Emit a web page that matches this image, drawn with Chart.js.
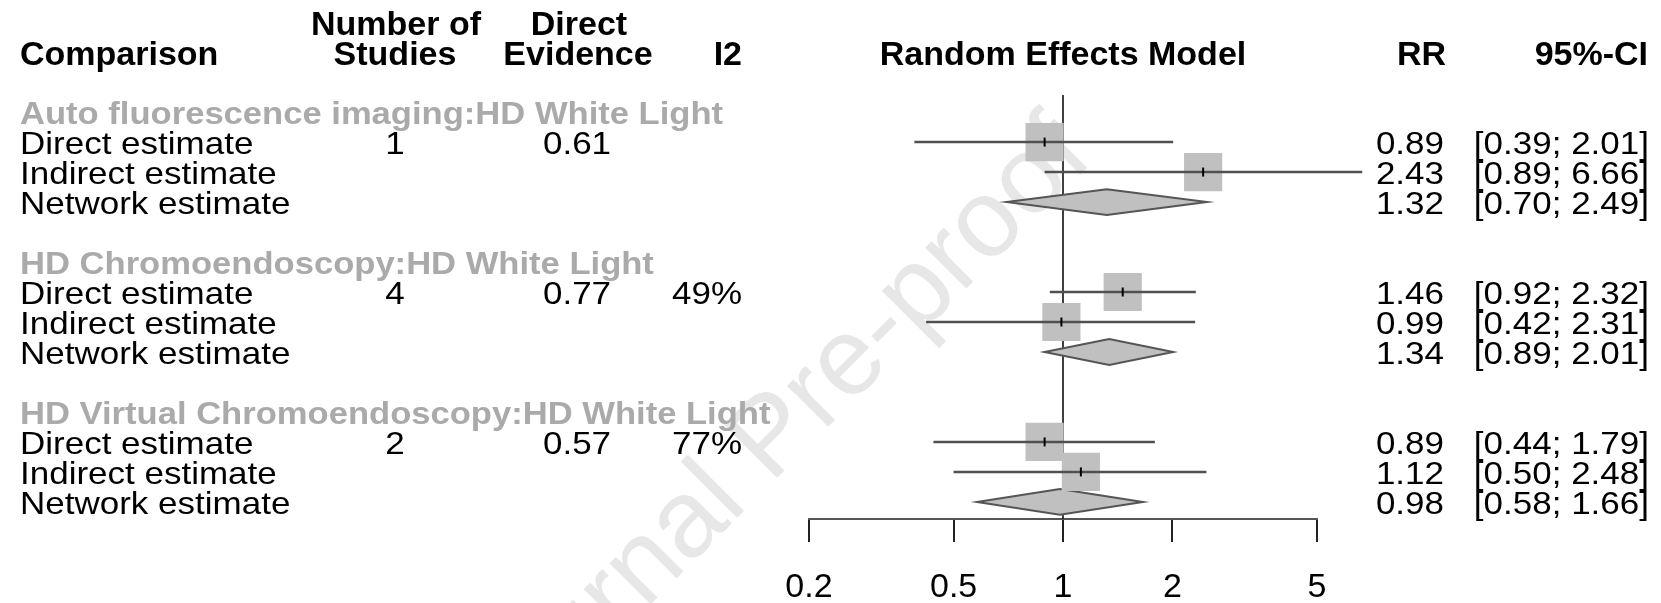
<!DOCTYPE html>
<html>
<head>
<meta charset="utf-8">
<script src="https://cdn.jsdelivr.net/npm/chart.js@4.4.1/dist/chart.umd.min.js"></script>
<style>
  html, body { margin: 0; padding: 0; background: #fff; }
  canvas { display: block; }
</style>
</head>
<body>
<canvas id="forest" width="1661" height="603"></canvas>
<script>
// data
const groups = [
    'Auto fluorescence imaging:HD White Light',
    'HD Chromoendoscopy:HD White Light',
    'HD Virtual Chromoendoscopy:HD White Light'
];
const estimateTypes = ['Direct estimate', 'Indirect estimate', 'Network estimate'];
const nStudies = ['1', '4', '2'];
const directEvidence = ['0.61', '0.77', '0.57'];
const i2 = ['', '49%', '77%'];
const rr = [[0.89, 2.43, 1.32], [1.46, 0.99, 1.34], [0.89, 1.12, 0.98]];
const lower = [[0.39, 0.89, 0.70], [0.92, 0.42, 0.89], [0.44, 0.50, 0.58]];
const upper = [[2.01, 6.66, 2.49], [2.32, 2.31, 2.01], [1.79, 2.48, 1.66]];
const xTicks = [0.2, 0.5, 1, 2, 5];

const FONT = '"Liberation Sans", Arial, sans-serif';

// row index of each line in the table (group title, then 3 estimates, then a blank)
const rowOf = (g, k) => g * 5 + 1 + k;

let squares = [], marks = [], ciLines = [], diamonds = [];
groups.forEach((g, gi) => {
    estimateTypes.forEach((t, k) => {
        let r = rowOf(gi, k);
        if (k < 2) {
            squares.push({ x: rr[gi][k], y: r });
            marks.push({ x: rr[gi][k], y: r });
            ciLines.push({ x: lower[gi][k], y: r }, { x: upper[gi][k], y: r }, { x: 1, y: null });
        } else {
            diamonds.push({ lo: lower[gi][k], est: rr[gi][k], hi: upper[gi][k], y: r });
        }
    });
});

function txt(ctx, s, x, y, align, font, color, sy) {
    ctx.save();
    ctx.font = font;
    ctx.fillStyle = color;
    ctx.textAlign = align;
    ctx.textBaseline = 'alphabetic';
    ctx.translate(x, y);
    ctx.scale(1, sy || 1);
    ctx.fillText(s, 0, 0);
    ctx.restore();
}

const watermark = {
    id: 'watermark',
    beforeDraw(chart) {
        const ctx = chart.ctx;
        ctx.save();
        ctx.translate(1095, 160);
        ctx.rotate(-Math.PI / 4);
        ctx.font = '110px ' + FONT;
        ctx.fillStyle = '#e7e7e7';
        ctx.textAlign = 'right';
        ctx.fillText('Journal Pre-proof', 0, 0);
        ctx.restore();
    }
};

const forestMarks = {
    id: 'forestMarks',
    beforeDatasetsDraw(chart) {
        const ctx = chart.ctx;
        const xs = chart.scales.x, ys = chart.scales.y;
        // line of no effect
        ctx.save();
        ctx.strokeStyle = '#000';
        ctx.lineWidth = 1.5;
        ctx.beginPath();
        ctx.moveTo(xs.getPixelForValue(1), chart.chartArea.top);
        ctx.lineTo(xs.getPixelForValue(1), chart.chartArea.bottom);
        ctx.stroke();
        // network estimate diamonds
        for (let d of diamonds) {
            let py = ys.getPixelForValue(d.y);
            let h = ys.getPixelForValue(d.y + 0.43) - py;
            ctx.beginPath();
            ctx.moveTo(xs.getPixelForValue(d.lo), py);
            ctx.lineTo(xs.getPixelForValue(d.est), py - h);
            ctx.lineTo(xs.getPixelForValue(d.hi), py);
            ctx.lineTo(xs.getPixelForValue(d.est), py + h);
            ctx.closePath();
            ctx.fillStyle = '#c0c0c0';
            ctx.fill();
            ctx.strokeStyle = '#555';
            ctx.lineWidth = 2;
            ctx.stroke();
        }
        ctx.restore();
    }
};

const table = {
    id: 'table',
    afterDraw(chart) {
        const ctx = chart.ctx;
        const ys = chart.scales.y;
        const bold = 'bold 34px ' + FONT;
        const boldRow = 'bold 34.6px ' + FONT;
        const reg = '35px ' + FONT;
        const sy = 0.9;

        txt(ctx, 'Comparison', 20, 65, 'left', bold, '#000');
        txt(ctx, 'Number of', 396, 35, 'center', bold, '#000');
        txt(ctx, 'Studies', 395, 65, 'center', bold, '#000');
        txt(ctx, 'Direct', 579, 35, 'center', bold, '#000');
        txt(ctx, 'Evidence', 578, 65, 'center', bold, '#000');
        txt(ctx, 'I2', 742, 65, 'right', bold, '#000');
        txt(ctx, 'Random Effects Model', 1063, 65, 'center', bold, '#000');
        txt(ctx, 'RR', 1446, 65, 'right', bold, '#000');
        txt(ctx, '95%-CI', 1648, 65, 'right', bold, '#000');

        groups.forEach((g, gi) => {
            let ty = ys.getPixelForValue(gi * 5) + 12;
            txt(ctx, g, 20, ty, 'left', boldRow, '#aaaaaa', sy);
            estimateTypes.forEach((t, k) => {
                let by = ys.getPixelForValue(rowOf(gi, k)) + 12;
                txt(ctx, t, 20, by, 'left', reg, '#000', sy);
                if (k === 0) {
                    txt(ctx, nStudies[gi], 395, by, 'center', reg, '#000', sy);
                    txt(ctx, directEvidence[gi], 577, by, 'center', reg, '#000', sy);
                    txt(ctx, i2[gi], 742, by, 'right', reg, '#000', sy);
                }
                txt(ctx, rr[gi][k].toFixed(2), 1444, by, 'right', reg, '#000', sy);
                let ci = '[' + lower[gi][k].toFixed(2) + '; ' + upper[gi][k].toFixed(2) + ']';
                txt(ctx, ci, 1649, by, 'right', reg, '#000', sy);
            });
        });
    }
};

const ctx = document.getElementById('forest').getContext('2d');
new Chart(ctx, {
    type: 'scatter',
    data: {
        datasets: [
            {
                label: 'estimate',
                data: marks,
                pointStyle: 'line',
                rotation: 90,
                pointRadius: 4.5,
                borderColor: '#000',
                borderWidth: 2
            },
            {
                type: 'line',
                label: 'ci',
                data: ciLines,
                borderColor: '#505050',
                borderWidth: 2.5,
                pointRadius: 0,
                spanGaps: false,
                clip: false
            },
            {
                label: 'weight',
                data: squares,
                pointStyle: 'rect',
                pointRadius: 27,
                backgroundColor: '#c0c0c0',
                borderWidth: 0
            }
        ]
    },
    options: {
        responsive: false,
        animation: false,
        devicePixelRatio: 1,
        layout: { padding: { left: 809, right: 344, top: 95, bottom: 0 } },
        plugins: {
            legend: { display: false },
            tooltip: { enabled: false }
        },
        scales: {
            x: {
                type: 'logarithmic',
                position: 'bottom',
                min: 0.2,
                max: 5,
                afterBuildTicks: axis => { axis.ticks = xTicks.map(v => ({ value: v })); },
                afterFit: axis => { axis.height = 84; },
                grid: {
                    drawOnChartArea: false,
                    drawTicks: true,
                    tickLength: 23,
                    color: '#222',
                    lineWidth: 2
                },
                border: { display: true, color: '#555', width: 2 },
                ticks: {
                    autoSkip: false,
                    maxRotation: 0,
                    padding: 25,
                    color: '#000',
                    font: { family: FONT, size: 34 },
                    callback: v => String(v)
                }
            },
            y: {
                type: 'linear',
                display: false,
                reverse: true,
                min: -0.57,
                max: 13.57
            }
        }
    },
    plugins: [watermark, forestMarks, table]
});
</script>
</body>
</html>
